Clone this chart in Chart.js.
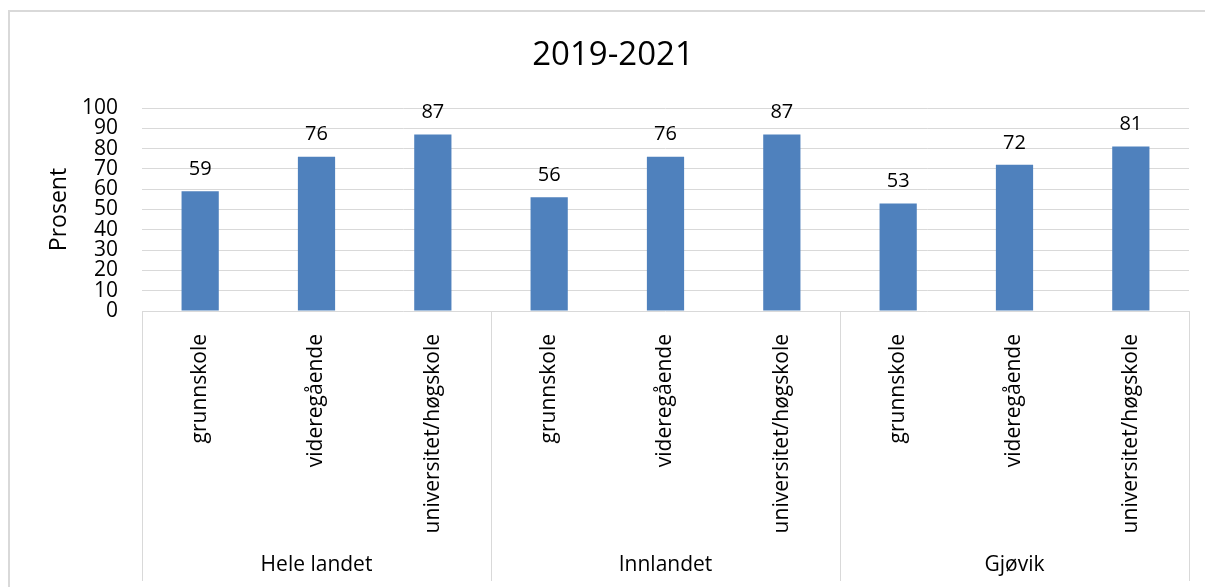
<!DOCTYPE html>
<html>
<head>
<meta charset="utf-8">
<script src="https://cdn.jsdelivr.net/npm/chart.js@4"></script>
<style>
  body { margin: 0; background: #fff; }
</style>
</head>
<body>
<canvas id="chart" width="1205" height="587"></canvas>
<script>
// Data
const groups = ["Hele landet", "Innlandet", "Gjøvik"];
const levels = ["grunnskole", "videregående", "universitet/høgskole"];
const values = [59, 76, 87, 56, 76, 87, 53, 72, 81];
const yTicks = [0, 10, 20, 30, 40, 50, 60, 70, 80, 90, 100];

// one category per bar, three per group
const labels = [];
groups.forEach(() => levels.forEach(l => labels.push(l)));

const FONT = "'Open Sans', sans-serif";
const gridColor = '#d9d9d9';

// frame round the whole chart
const framePlugin = {
    id: 'frame',
    beforeDraw(chart) {
        const ctx = chart.ctx;
        ctx.save();
        ctx.strokeStyle = gridColor;
        ctx.lineWidth = 2;
        ctx.strokeRect(9, 11, 1400, 800);
        ctx.restore();
    }
};

// value labels above the bars
const valueLabels = {
    id: 'valueLabels',
    afterDatasetsDraw(chart) {
        const ctx = chart.ctx;
        const meta = chart.getDatasetMeta(0);
        ctx.save();
        ctx.fillStyle = '#000';
        ctx.font = '20px ' + FONT;
        ctx.textAlign = 'center';
        ctx.textBaseline = 'bottom';
        meta.data.forEach((bar, i) => {
            ctx.fillText(values[i], bar.x, bar.y - 12);
        });
        ctx.restore();
    }
};

// group separators and group names under the category labels
const groupAxis = {
    id: 'groupAxis',
    afterDraw(chart) {
        const ctx = chart.ctx;
        const x = chart.scales.x;
        const top = chart.chartArea.bottom;
        const n = levels.length;
        ctx.save();
        ctx.strokeStyle = gridColor;
        ctx.lineWidth = 1;
        for (let g = 0; g <= groups.length; g++) {
            const px = Math.round(x.getPixelForValue(g * n - 0.5)) + 0.5;
            ctx.beginPath();
            ctx.moveTo(px, top);
            ctx.lineTo(px, 581);
            ctx.stroke();
        }
        ctx.fillStyle = '#000';
        ctx.font = '21px ' + FONT;
        ctx.textAlign = 'center';
        ctx.textBaseline = 'middle';
        groups.forEach((name, g) => {
            const cx = x.getPixelForValue(g * n + (n - 1) / 2);
            ctx.fillText(name, cx, 565);
        });
        ctx.restore();
    }
};

new Chart(document.getElementById('chart'), {
    type: 'bar',
    data: {
        labels: labels,
        datasets: [{
            data: values,
            backgroundColor: '#4f81bd',
            barPercentage: 0.32,
            categoryPercentage: 1
        }]
    },
    options: {
        responsive: false,
        animation: false,
        devicePixelRatio: 1,
        layout: { padding: { left: 21, right: 0, top: 0, bottom: 0 } },
        plugins: {
            legend: { display: false },
            tooltip: { enabled: false },
            title: {
                display: true,
                text: '2019-2021',
                color: '#000',
                font: { family: FONT, size: 33, weight: 'normal', lineHeight: 1.2 },
                padding: { top: 36, bottom: 32.4 }
            }
        },
        scales: {
            x: {
                grid: { display: false },
                border: { display: false },
                ticks: {
                    color: '#000',
                    font: { family: FONT, size: 21 },
                    minRotation: 90,
                    maxRotation: 90,
                    autoSkip: false,
                    padding: 15
                },
                afterFit(scale) { scale.height = 276; }
            },
            y: {
                min: 0,
                max: 100,
                afterBuildTicks(scale) {
                    scale.ticks = yTicks.map(v => ({ value: v }));
                },
                grid: { color: gridColor, drawTicks: false },
                border: { display: false },
                ticks: {
                    color: '#000',
                    font: { family: FONT, size: 21, lineHeight: 1 },
                    autoSkip: false,
                    padding: 24
                },
                title: {
                    display: true,
                    text: 'Prosent',
                    color: '#000',
                    font: { family: FONT, size: 23, lineHeight: 1.2 },
                    padding: { top: 25, bottom: 0 }
                },
                afterFit(scale) { scale.width = 121; }
            },
            // empty right-hand axis that only keeps the plot clear of the edge
            yRight: {
                position: 'right',
                display: true,
                grid: { display: false },
                border: { display: false },
                ticks: { display: false },
                afterFit(scale) { scale.width = 16; }
            }
        }
    },
    plugins: [framePlugin, valueLabels, groupAxis]
});
</script>
</body>
</html>
